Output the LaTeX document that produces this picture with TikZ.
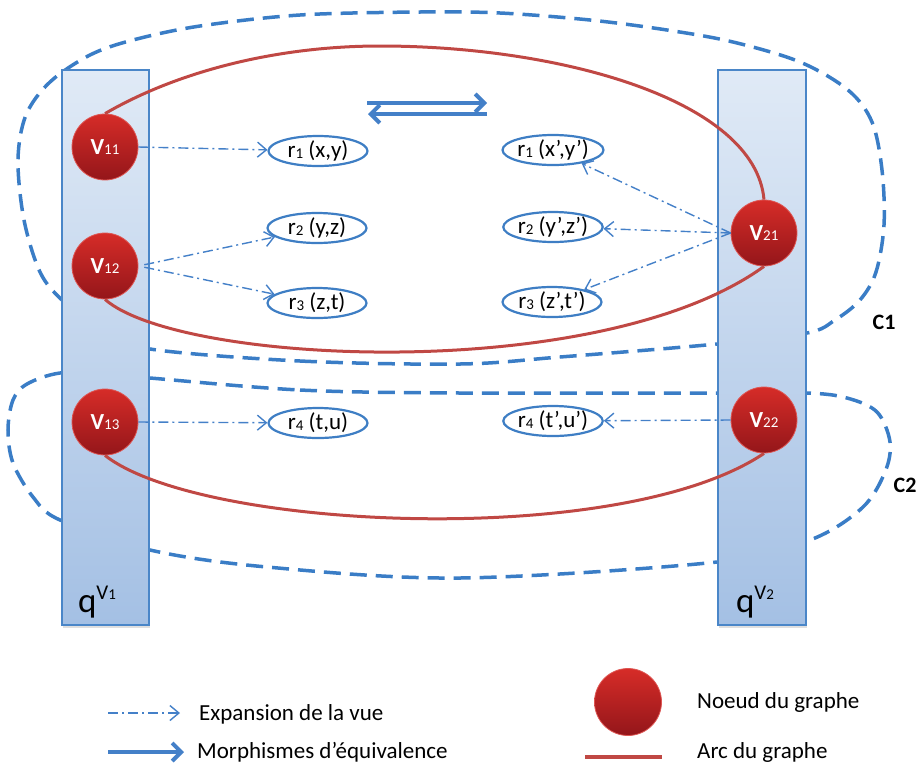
\documentclass[tikz,border=0pt]{standalone}
\usepackage{fontspec}
\setmainfont{Carlito}
\usetikzlibrary{arrows.meta,shapes.geometric,shadows}

\definecolor{dashblue}{RGB}{58,125,198}
\definecolor{linkblue}{RGB}{68,128,200}
\definecolor{ellblue}{RGB}{62,126,196}
\definecolor{boxedge}{RGB}{74,134,200}
\definecolor{boxtop}{RGB}{224,234,246}
\definecolor{boxbot}{RGB}{164,192,228}
\definecolor{arcred}{RGB}{192,72,68}
\definecolor{nodetop}{RGB}{214,44,40}
\definecolor{nodebot}{RGB}{148,22,26}

% vertex label: bold V with small index digits
\newcommand{\vlab}[1]{V{\fontsize{15}{15}\selectfont\mdseries #1}}
% relation label: r with index, then its arguments
\newcommand{\rlab}[2]{r\raisebox{-1pt}{\fontsize{15}{15}\selectfont #1} (#2)}
% query label q^{V_i}
\newcommand{\qlab}[1]{{\fontsize{35}{35}\selectfont q}\raisebox{13pt}{\fontsize{21}{21}\selectfont V{\fontsize{15}{15}\selectfont #1}}}

\begin{document}
\begin{tikzpicture}[x=1pt,y=-1pt,
  qbox/.style={rectangle, draw=boxedge, line width=1.3pt, top color=boxtop, bottom color=boxbot,
    inner sep=0pt, drop shadow={opacity=0.25,shadow xshift=1pt,shadow yshift=-2.5pt}},
  vnode/.style={circle, minimum size=66pt, inner sep=0pt, top color=nodetop, bottom color=nodebot,
    draw=nodetop!80!white, line width=0.8pt, text=white, font=\fontsize{23}{23}\selectfont\bfseries},
  rnode/.style={ellipse, draw=ellblue, line width=2.2pt, fill=white, minimum width=99pt,
    minimum height=30pt, inner sep=0pt, font=\fontsize{23}{23}\selectfont},
  expand/.style={draw=linkblue, line width=1.4pt, dash pattern=on 10pt off 4pt on 2pt off 4pt,
    -{Straight Barb[length=9pt,width=15pt]}},
  equiv/.style={draw=linkblue, line width=4pt, -{Straight Barb[length=9pt,width=18pt]}},
  arc/.style={draw=arcred, line width=3pt},
  loop/.style={draw=dashblue, line width=3.5pt, dash pattern=on 17pt off 9pt},
  legend/.style={anchor=west, inner sep=0pt, font=\fontsize{23}{23}\selectfont},
  clab/.style={inner sep=0pt, font=\fontsize{22}{22}\selectfont\bfseries}
]
\useasboundingbox (0,0) rectangle (918,772);

% loops C1 and C2 (they pass behind the two columns)
\draw[loop] plot[smooth cycle, tension=0.55] coordinates {
  (150,349) (300,361) (460,364) (560,357) (717,344) (807,333) (835,320) (860,300)
  (876,272) (884,225) (882,170) (872,122) (848,90) (800,62) (733,42) (667,30)
  (590,20) (500,13) (420,12) (300,15) (200,26) (133,40) (90,55) (50,82)
  (26,115) (18,160) (24,220) (40,272) (62,300) (100,330)};
\draw[loop] plot[smooth cycle, tension=0.55] coordinates {
  (150,378) (300,390) (460,393) (718,393) (807,393) (847,398) (877,412)
  (890,442) (885,472) (862,508) (810,540) (717,562) (460,578)
  (267,567) (150,550) (60,520) (33,497) (13,463) (8,430) (13,400) (27,384)
  (60,373) (105,374)};

% the two query columns
\node[qbox, minimum width=87pt, minimum height=555pt] (q1) at (105.5,347.5) {};
\node[qbox, minimum width=88pt, minimum height=555pt] (q2) at (762,347.5) {};
\node (q1lab) at (97,602) {\qlab{1}};
\node (q2lab) at (755,602) {\qlab{2}};

% graph nodes
\node[vnode] (v11) at (105,147) {\vlab{11}};
\node[vnode] (v12) at (105,266) {\vlab{12}};
\node[vnode] (v13) at (105,422) {\vlab{13}};
\node[vnode] (v21) at (764,233) {\vlab{21}};
\node[vnode] (v22) at (764,420) {\vlab{22}};

% relations
\node[rnode] (ra1) at (318,151) {\rlab{1}{x,y}};
\node[rnode] (ra2) at (317,228) {\rlab{2}{y,z}};
\node[rnode] (ra3) at (317,303) {\rlab{3}{z,t}};
\node[rnode] (ra4) at (318,423) {\rlab{4}{t,u}};
\node[rnode] (rb1) at (553,150) {\rlab{1}{x’,y’}};
\node[rnode] (rb2) at (553,227) {\rlab{2}{y’,z’}};
\node[rnode] (rb3) at (552,302) {\rlab{3}{z’,t’}};
\node[rnode] (rb4) at (553,421) {\rlab{4}{t’,u’}};

% graph arcs
\draw[arc] (v11.north) .. controls (180,70) and (280,46) .. (380,46)
  .. controls (560,46) and (755,100) .. (v21.north);
\draw[arc] (v12.south) .. controls (180,365) and (600,385) .. (v21.south);
\draw[arc] (v13.south) .. controls (200,530) and (620,550) .. (v22.south);

% view expansions
\draw[expand] (v11.east) -- (ra1);
\draw[expand, shorten <=6pt] (v12.east) -- (ra2);
\draw[expand, shorten <=6pt] (v12.east) -- (ra3);
\draw[expand] (v13.east) -- (ra4);
\draw[expand] (v21.west) -- (rb1);
\draw[expand] (v21.west) -- (rb2);
\draw[expand] (v21.west) -- (rb3);
\draw[expand] (v22.west) -- (rb4);

% equivalence morphisms
\coordinate (eqa) at (367,103);
\coordinate (eqb) at (487,103);
\coordinate (eqc) at (487,114);
\coordinate (eqd) at (368,114);
\draw[equiv] (eqa) -- (eqb);
\draw[equiv] (eqc) -- (eqd);

% loop labels
\node[clab] (c1) at (884,322) {C1};
\node[clab] (c2) at (905,485) {C2};

% legend
\coordinate (la1) at (108,713);
\coordinate (la2) at (180,713);
\draw[expand] (la1) -- (la2);
\node[legend] (lt1) at (199,714) {Expansion de la vue};
\coordinate (lb1) at (108,752);
\coordinate (lb2) at (184,752);
\draw[equiv] (lb1) -- (lb2);
\node[legend] (lt2) at (197,752) {Morphismes d’équivalence};
\node[vnode, minimum size=67pt] (lnode) at (628,702) {};
\node[legend] (lt3) at (697,702) {Noeud du graphe};
\coordinate (lc1) at (585,757);
\coordinate (lc2) at (662,757);
\draw[arc, line width=4.5pt] (lc1) -- (lc2);
\node[legend] (lt4) at (697,752) {Arc du graphe};
\end{tikzpicture}
\end{document}
